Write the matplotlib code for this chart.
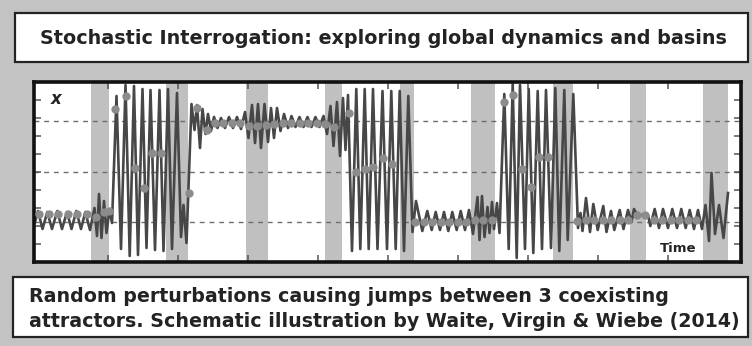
import matplotlib
matplotlib.use("Agg")
import numpy as np
import matplotlib.pyplot as plt
from matplotlib.patches import Rectangle

# ---------------------------------------------------------------- text
title_text = "Stochastic Interrogation: exploring global dynamics and basins"
caption_lines = [
    "Random perturbations causing jumps between 3 coexisting",
    "attractors. Schematic illustration by Waite, Virgin & Wiebe (2014)",
]
y_label = "x"
t_label = "Time"

# ---------------------------------------------------------------- data
# random-perturbation windows (time units)
perturb_start = [53.3, 127.7, 207.7, 287.3, 361.7, 433.3, 515.3, 591.7, 665.0]
perturb_end = [71.0, 150.3, 230.0, 304.0, 376.0, 457.0, 534.5, 608.3, 690.0]

# coexisting attractor levels (dashed guides)
attractor_levels = [51, 0, -50]

# displacement record, turning points per regime
rest1_t = [-3, 0, 4.5, 9.3, 14, 19.3, 24, 29, 33.5, 38.3, 43, 47.3, 52,
           56.5, 59, 61, 63.5, 66, 68.5, 71.5, 74]
rest1_x = [-50, -39, -57, -40, -57, -39, -57, -40, -57, -39, -57, -40, -58,
           -36, -64, -22, -66, -29, -61, -37, -51]

large1_t = [78.5, 83, 87.5, 91.7, 96, 100, 104.5, 108.5, 112.5, 117, 121.5,
            125.5, 130, 134, 139, 143, 145.5, 148.5, 153.5]
large1_x = [76, -77, 87, -84, 86, -83, 83, -76, 82, -78, 82,
            -79, 83, -77, 79, -65, -33, -71, 68]

upper_t = [156.5, 159, 162, 164.5, 167.5, 170, 173, 176, 179.5, 183, 187, 191,
           195, 199, 203, 207, 210.5, 214, 217, 220, 223, 226.5, 230, 233,
           236, 239, 242.5, 246, 250, 253.5, 257.5, 261.5, 265.5, 269.5,
           273.5, 277.5, 281.5, 285.5, 289, 292.5, 295.5, 299, 302, 305,
           307.5, 310]
upper_x = [42, 67, 24, 63, 38, 58, 41, 55, 44, 54, 44, 55,
           44, 55, 43, 60, 34, 67, 29, 68, 24, 68, 30, 64,
           34, 64, 41, 58, 44, 56, 45, 55, 45, 55,
           45, 55, 45, 56, 38, 66, 26, 70, 16, 74,
           22, 77]

large2_t = [314, 318.3, 322.3, 326.7, 330.7, 335, 339.5, 344.5, 349, 353.3,
            357.7, 361.7, 366, 370.3]
large2_x = [-79, 83, -77, 83, -77, 83, -77, 81, -77, 81,
            -77, 81, -79, 76]

rest2_t = [374.5, 378, 384.3, 389.3, 393.7, 397.7, 402, 406, 410.3, 414.3,
           418.7, 422.7, 427, 431, 435, 439.5, 441.5, 444, 446.5, 449.5,
           451.5, 454, 456, 459, 461.5]
rest2_x = [-60, -29, -59, -39, -58, -40, -58, -40, -59, -40,
           -58, -39, -58, -38, -62, -25, -68, -24, -65, -35,
           -61, -30, -57, -31, -61]

large3_t = [466.3, 470.7, 474.7, 478.7, 482, 487, 490.7, 495.3, 499.7, 504,
            508, 513, 517.3, 521.3, 526.3, 529.7, 535.3]
large3_x = [78, -77, 88, -86, 87, -77, 83, -81, 81, -77,
            82, -76, 84, -79, 82, -68, 78]

rest3_t = [540, 542.5, 544.5, 548, 552, 555.3, 559.7, 565.3, 568.5, 573,
           576.3, 581.7, 585.5, 590, 593.5, 596, 599.5, 610, 612.3, 616.7,
           621, 625, 630, 634.3, 639, 643.3, 647.7, 651.7, 656, 660, 664,
           667.5, 671, 673.5, 677, 681, 685.5, 690]
rest3_x = [-56, -41, -59, -26, -60, -32, -58, -34, -60, -39,
           -58, -38, -57, -38, -50, -37, -43, -43, -54, -37,
           -56, -37, -56, -37, -56, -37, -56, -38, -57, -38, -57,
           -33, -69, -1, -62, -33, -66, -21]

# once-per-forcing-period samples
strobe_t = [1, 10.5, 20, 29.5, 39, 48.5, 58, 66, 71,
            77.3, 87.5, 97, 105.7, 113.7, 123, 151.3,
            158.7, 168.7, 176.5, 185, 193.5, 202, 210.5, 219, 227.5, 236,
            244.5, 253, 261.5, 270, 278.5, 287, 295.5, 311.3,
            318, 326.5, 335, 345, 354, 377,
            385.5, 394, 402.5, 411, 419.5, 428, 436.5, 445, 453.5,
            466, 474.7, 484, 492.5, 500.7, 509.7, 539,
            547.5, 556, 564.5, 573, 581.5, 590, 598.5, 607, 615.5, 624,
            632.5, 641, 649.5, 658]
strobe_x = [-42, -42, -42, -42, -42, -42, -45, -40, -39,
            63, 76, 4, -16, 19, 19, -21,
            64, 42, 49, 49, 49, 49, 46, 46, 47, 48,
            49, 49, 49, 49, 49, 48, 45, 59,
            0, 3, 5, 14, 8, -50,
            -50, -50, -50, -50, -50, -50, -48, -48, -48,
            70, 77, 3.5, -15, 15, 15, -49,
            -48, -48, -48, -48, -48, -48, -43, -43, -48, -48,
            -48, -48, -48, -48]

time = np.concatenate([rest1_t, large1_t, upper_t, large2_t, rest2_t,
                       large3_t, rest3_t])
disp = np.concatenate([rest1_x, large1_x, upper_x, large2_x, rest2_x,
                       large3_x, rest3_x])

# ---------------------------------------------------------------- style
W, H = 752, 346
bg = "#c3c3c3"
band_col = "#c0c0c0"
ink = "#232323"
trace_col = "#474747"
dot_col = "#8c8c8c"

plt.rcParams["font.family"] = ["DejaVu Sans"]

fig = plt.figure(figsize=(W / 100, H / 100), dpi=100, facecolor=bg)


def fx(px):
    return px / W


def fy(py):
    return 1 - py / H


# heading panel
fig.patches.append(Rectangle((fx(14.5), fy(62)), fx(748) - fx(14.5),
                             fy(13) - fy(62), transform=fig.transFigure,
                             facecolor="white", edgecolor=ink, lw=1.6,
                             zorder=0))
fig.text(fx(383), fy(38.5), title_text, ha="center", va="center",
         fontsize=13.8, fontweight="bold", color=ink)

# caption panel
fig.patches.append(Rectangle((fx(13), fy(337)), fx(748) - fx(13),
                             fy(277) - fy(337), transform=fig.transFigure,
                             facecolor="white", edgecolor=ink, lw=1.6,
                             zorder=0))
fig.text(fx(29), fy(302), caption_lines[0], ha="left", va="baseline",
         fontsize=13.7, fontweight="bold", color=ink)
fig.text(fx(29), fy(327), caption_lines[1], ha="left", va="baseline",
         fontsize=13.7, fontweight="bold", color=ink)

# time-series panel
ax = fig.add_axes([fx(34), fy(261.5), fx(741) - fx(34), fy(81.5) - fy(261.5)])
ax.set_facecolor("white")
ax.set_xlim(-4, 703)
ax.set_ylim(-89.5, 90.5)

for s, e in zip(perturb_start, perturb_end):
    ax.axvspan(s, e, color=band_col, lw=0, zorder=0)

for lvl in attractor_levels:
    ax.axhline(lvl, color="#6e6e6e", lw=1.0, ls=(0, (3.5, 3.5)), zorder=1)

ax.plot(time, disp, color=trace_col, lw=1.9, solid_joinstyle="round",
        zorder=2)
ax.plot(strobe_t, strobe_x, ls="none", marker="o", ms=5.0,
        mfc=dot_col, mec=dot_col, zorder=3)

ax.set_xticks(np.arange(70, 700, 70))
ax.set_yticks(np.arange(-72, 73, 18))
ax.tick_params(direction="in", length=5, width=1.1, color="#555555",
               top=True, right=True, labelbottom=False, labelleft=False)
for sp in ax.spines.values():
    sp.set_linewidth(2.6)
    sp.set_color("#111111")

ax.text(0.024, 0.905, y_label, transform=ax.transAxes, ha="left",
        va="center", fontsize=12, fontweight="bold", fontstyle="italic",
        color=ink)
ax.text(0.911, 0.07, t_label, transform=ax.transAxes, ha="center",
        va="center", fontsize=9.5, fontweight="bold", color=ink)

fig.savefig("out.png", dpi=100, facecolor=bg)
